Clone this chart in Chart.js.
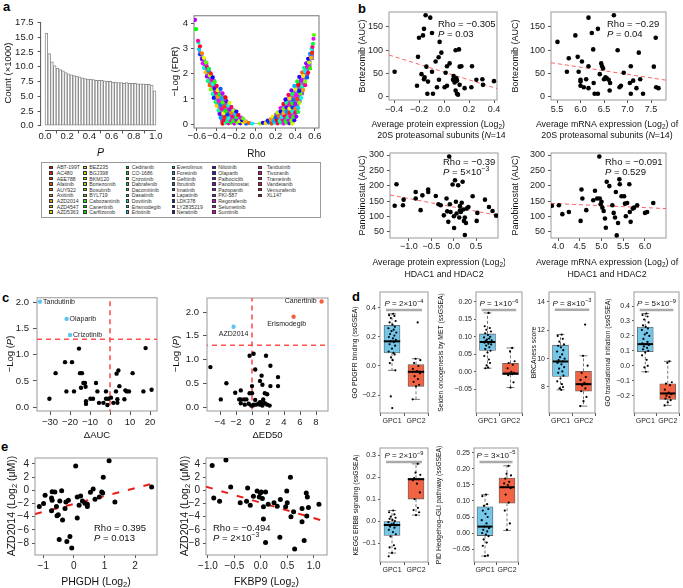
<!DOCTYPE html>
<html><head><meta charset="utf-8">
<script src="https://cdn.jsdelivr.net/npm/chart.js@4.4.1/dist/chart.umd.min.js"></script>
<style>
html,body{margin:0;padding:0;background:#fff;overflow:hidden;width:683px;height:588px}
body{position:relative;font-family:"Liberation Sans",Arial,sans-serif}
.lt{position:absolute;font-weight:bold;font-size:13px;line-height:13px;color:#000}
#legend{position:absolute;left:41px;top:162px;width:280px;height:56px;border:1px solid #9a9a9a;box-sizing:border-box}
.li{position:absolute;font-size:5.2px;line-height:6px;color:#333;white-space:nowrap}
.sw{position:absolute;width:3.6px;height:3.6px;border:0.5px solid #333;box-sizing:border-box}
</style></head><body>
<div class="lt" style="left:3px;top:0px">a</div>
<div class="lt" style="left:358px;top:2px">b</div>
<div class="lt" style="left:2px;top:291px">c</div>
<div class="lt" style="left:352px;top:290px">d</div>
<div class="lt" style="left:1px;top:440px">e</div>
<div id="legend"></div>
<script>
// ================= DATA =================
// panel a: histogram of P values (count x1000), 40 bins of width 0.025
const histCounts=[15.7,12.2,10.8,10.2,9.7,9.5,9.3,9.0,8.8,8.6,8.5,8.4,8.3,8.1,8.0,7.9,7.9,7.8,7.7,7.7,7.7,7.6,7.5,7.5,7.4,7.4,7.3,7.3,7.2,7.3,7.2,7.2,7.2,7.1,7.1,7.1,7.0,7.0,6.9,5.9];
const histBinWidth=0.025;
const histTicksX=[0,0.2,0.4,0.6,0.8,1.0];
const histTicksY=[0,2.5,5,7.5,10,12.5,15,17.5];
// panel a: volcano (Rho vs -log FDR)
const drugs=["ABT-199T","AC480","AEE788","Afatinib","AUY922","Axitinib","AZD2014","AZD4547","AZD5363",
"BEZ235","BGJ398","BKM120","Bortezomib","Bosutinib","BYL719","Cabozantinib","Canertinib","Carfilzomib",
"Cediranib","CO-1686","Crizotinib","Dabrafenib","Dacomitinib","Dasatinib","Dovitinib","Erismodegib","Erlotinib",
"Everolimus","Foretinib","Gefitinib","Ibrutinib","Imatinib","Lapatinib","LDK378","LY2835219","Neratinib",
"Nilotinib","Olaparib","Palbociclib","Panobinostat","Pazopanib","PKI-587","Regorafenib","Selumetinib","Sunitinib",
"Tandutinib","Tivozanib","Trametinib","Vandetanib","Vemurafenib","XL147"];
const volcanoPts=[
[-0.34,0.02],[-0.31,0.05],[-0.28,0.03],[-0.25,0.06],[-0.22,0.02],[-0.19,0.05],[-0.16,0.03],[-0.13,0.06],[-0.10,0.02],[-0.07,0.04],[-0.04,0.02],
[-0.33,0.15],[-0.29,0.12],[-0.26,0.16],[-0.23,0.13],[-0.2,0.17],[-0.17,0.12],[-0.14,0.15],[-0.11,0.1],
[-0.36,0.25],[-0.32,0.28],[-0.28,0.24],[-0.24,0.3],[-0.2,0.27],[-0.16,0.25],[-0.13,0.22],
[-0.37,0.4],[-0.33,0.43],[-0.29,0.38],[-0.25,0.45],[-0.21,0.41],[-0.18,0.36],
[-0.38,0.55],[-0.35,0.6],[-0.31,0.52],[-0.27,0.58],[-0.23,0.54],[-0.2,0.5],
[-0.4,0.72],[-0.36,0.76],[-0.32,0.7],[-0.28,0.74],[-0.25,0.68],
[-0.41,0.88],[-0.38,0.92],[-0.34,0.86],[-0.3,0.9],[-0.27,0.84],
[-0.43,1.04],[-0.39,1.08],[-0.35,1.02],[-0.31,1.06],
[-0.44,1.2],[-0.41,1.25],[-0.37,1.18],[-0.34,1.22],
[-0.46,1.38],[-0.42,1.42],[-0.39,1.35],[-0.36,1.4],
[-0.47,1.55],[-0.44,1.6],[-0.4,1.52],
[-0.49,1.72],[-0.45,1.76],[-0.42,1.68],
[-0.5,1.9],[-0.47,1.94],[-0.44,1.86],
[-0.51,2.06],[-0.48,2.1],[-0.46,2.02],
[-0.53,2.24],[-0.5,2.28],[-0.48,2.2],
[-0.54,2.42],[-0.51,2.46],[-0.55,2.6],[-0.53,2.64],[-0.57,2.78],[-0.55,2.82],
[-0.58,2.98],[-0.57,3.1],[-0.585,3.25],[-0.59,3.32],[-0.61,3.78],[-0.62,4.15],
[0.04,0.02],[0.07,0.05],[0.1,0.03],[0.13,0.06],[0.16,0.02],[0.19,0.05],[0.22,0.03],[0.25,0.06],[0.28,0.02],[0.31,0.05],[0.34,0.03],[0.37,0.02],
[0.12,0.14],[0.15,0.17],[0.18,0.12],[0.21,0.16],[0.24,0.13],[0.27,0.17],[0.3,0.12],[0.33,0.16],[0.36,0.13],[0.39,0.15],
[0.17,0.3],[0.2,0.27],[0.23,0.32],[0.26,0.28],[0.29,0.33],[0.32,0.27],[0.35,0.31],[0.38,0.28],[0.41,0.3],
[0.22,0.46],[0.25,0.5],[0.28,0.44],[0.31,0.48],[0.34,0.45],[0.37,0.5],[0.4,0.46],[0.43,0.48],
[0.25,0.64],[0.28,0.6],[0.31,0.66],[0.34,0.62],[0.37,0.67],[0.4,0.61],[0.43,0.65],
[0.28,0.8],[0.31,0.84],[0.34,0.78],[0.37,0.82],[0.4,0.8],[0.44,0.84],
[0.3,0.98],[0.34,1.02],[0.38,0.96],[0.42,1.0],[0.46,1.04],
[0.33,1.16],[0.37,1.2],[0.41,1.15],[0.45,1.22],
[0.36,1.34],[0.4,1.38],[0.44,1.32],[0.48,1.36],
[0.39,1.52],[0.43,1.56],[0.47,1.5],[0.5,1.55],
[0.42,1.7],[0.46,1.74],[0.5,1.7],
[0.44,1.88],[0.48,1.92],[0.52,1.86],
[0.47,2.06],[0.5,2.1],[0.53,2.04],
[0.49,2.24],[0.52,2.28],[0.55,2.22],
[0.51,2.42],[0.54,2.46],[0.53,2.6],[0.56,2.64],[0.55,2.8],[0.57,2.84],
[0.565,3.0],[0.575,3.08],[0.58,3.2],[0.585,3.4],[0.59,3.55]];
// vertical extent [x, low, high] of the dense point cloud, read column by column
const volcanoCloud=[[-0.575,2.85,3.05],[-0.55,2.5,2.85],[-0.525,2.15,2.65],[-0.5,1.9,2.5],[-0.475,1.6,2.25],[-0.45,1.35,2.0],[-0.425,1.0,1.8],[-0.4,0.7,1.6],[-0.375,0.4,1.45],[-0.35,0.05,1.3],[-0.325,0,1.15],[-0.3,0,1.0],[-0.275,0,0.88],[-0.25,0,0.75],[-0.225,0,0.63],[-0.2,0,0.53],[-0.175,0,0.43],[-0.15,0,0.33],[-0.125,0,0.24],[-0.1,0,0.17],[-0.075,0,0.1],[-0.05,0,0.05],[-0.025,0,0.03],[0,0,0.02],[0.025,0,0.03],[0.05,0,0.05],[0.075,0,0.09],[0.1,0,0.14],[0.125,0,0.19],[0.15,0,0.26],[0.175,0,0.36],[0.2,0,0.45],[0.225,0,0.54],[0.25,0,0.66],[0.275,0,0.8],[0.3,0,0.94],[0.325,0,1.08],[0.35,0,1.22],[0.375,0,1.38],[0.4,0.2,1.52],[0.425,0.55,1.7],[0.45,0.85,1.9],[0.475,1.15,2.08],[0.5,1.5,2.28],[0.525,1.8,2.5],[0.55,2.15,2.82],[0.575,2.55,3.1]];
const volcanoTicksX=[-0.6,-0.4,-0.2,0,0.2,0.4,0.6];
const volcanoTicksY=[0,1,2,3,4];

// panel b
const b1Pts=[[-0.395,54],[-0.216,24],[-0.208,86],[-0.2,127],[-0.18,49],[-0.168,132],[-0.16,146],[-0.16,38],[-0.155,42],[-0.147,175],[-0.141,65],[-0.133,7],[-0.128,33],[-0.11,170],[-0.096,137],[-0.096,54],[-0.088,7],[-0.067,76],[-0.056,21],[-0.043,85],[-0.04,37],[-0.035,118],[-0.021,95],[0.005,21],[0.013,52],[0.024,24],[0.024,66],[0.045,72],[0.072,37],[0.077,45],[0.085,31],[0.093,100],[0.093,14],[0.099,40],[0.104,7],[0.104,35],[0.112,5],[0.12,102],[0.125,65],[0.125,26],[0.139,66],[0.165,19],[0.219,21],[0.224,66],[0.259,37],[0.307,38],[0.312,26],[0.4,34]];
const b1Fit=[[-0.44,90],[0.424,18]];
const b2Pts=[[5.51,118],[5.71,54],[5.75,83],[5.89,132],[5.94,86],[5.96,54],[6.0,37],[6.0,33],[6.0,24],[6.03,76],[6.07,21],[6.12,38],[6.17,66],[6.17,170],[6.17,19],[6.24,137],[6.27,102],[6.28,30],[6.3,7],[6.37,146],[6.37,7],[6.41,49],[6.44,72],[6.46,66],[6.48,61],[6.5,38],[6.53,42],[6.56,40],[6.6,37],[6.62,14],[6.63,30],[6.71,175],[6.79,100],[6.83,21],[6.86,24],[6.92,52],[7.05,30],[7.07,66],[7.07,7],[7.12,35],[7.19,19],[7.24,95],[7.27,38],[7.33,7],[7.56,65],[7.6,127],[7.61,21],[7.66,19]];
const b2Fit=[[5.372,73.5],[7.819,36]];
const b3Pts=[[-1.32,135],[-1.28,205],[-1.135,137],[-1.12,155],[-0.85,180],[-0.85,159],[-0.74,121],[-0.70,169],[-0.57,188],[-0.57,180],[-0.4,167],[-0.34,140],[-0.29,137],[-0.22,104],[-0.16,159],[-0.145,117],[-0.12,83],[-0.1,295],[-0.085,140],[-0.07,115],[-0.025,204],[0.005,101],[0.01,63],[0.03,218],[0.05,148],[0.065,110],[0.1,202],[0.125,97],[0.14,134],[0.14,120],[0.16,115],[0.18,145],[0.2,213],[0.215,123],[0.23,86],[0.25,97],[0.275,79],[0.25,40],[0.29,126],[0.33,131],[0.425,166],[0.515,86],[0.53,112],[0.7,155],[0.79,131],[0.87,118],[0.95,103]];
const b3Fit=[[-1.425,170],[0.992,104]];
const b4Pts=[[3.86,135],[4.02,137],[4.1,108],[4.25,115],[4.54,188],[4.56,159],[4.65,121],[4.52,86],[4.81,153],[4.85,184],[4.9,159],[4.95,295],[4.96,159],[4.98,140],[5.0,148],[5.02,129],[5.05,118],[5.08,94],[5.1,64],[5.12,213],[5.18,199],[5.25,137],[5.28,112],[5.31,97],[5.33,180],[5.35,39],[5.38,79],[5.41,221],[5.42,205],[5.46,166],[5.52,166],[5.54,142],[5.56,101],[5.59,144],[5.64,205],[5.65,115],[5.67,83],[5.72,126],[5.75,129],[5.82,137],[6.0,112],[6.05,115],[6.19,144]];
const b4Fit=[[3.839,143],[6.483,126]];

// panel c
const c1Pts=[[-15.5,1.12],[-22.5,0.86],[-19,0.86],[-27.2,0.65],[-15,0.65],[-14,0.65],[-13.3,0.46],[-12.5,0.46],[-7,0.46],[-14.5,0.37],[-12.2,0.39],[-21.8,0.30],[-18,0.30],[-6.3,0.30],[-2,0.30],[-30.3,0.16],[-9.8,0.16],[-8.5,0.16],[-2,0.16],[-0.8,0.16],[-12,0.11],[-12,0.06],[-5.5,0.08],[-3.3,0.08],[-1.3,0.04],[0.5,0.18],[1.7,0.08],[3.3,0.64],[4.2,0.70],[4.7,0.40],[3,0.30],[3.7,0.15],[3.7,0.08],[7.2,0.15],[7.7,0.32],[8.3,0.30],[9.5,0.30],[11.3,0.65],[17.8,1.13],[16.7,0.30],[20.8,0.33]];
const c1Hits=[["Tandutinib",-35,2.02],["Olaparib",-21.7,1.69],["Crizotinib",-20,1.38]];
const c2Pts=[[-5.2,0.84],[-3.9,0.16],[-3.2,0.50],[-2.1,0.30],[-1.4,0.35],[-1.6,0.16],[-1.4,0.16],[-1.0,0.16],[-0.7,0.16],[-1.4,0.08],[-0.9,0.05],[-0.4,0.07],[-0.3,0.29],[-0.3,1.08],[0.2,1.12],[0,0.44],[0,0.29],[0.4,0.79],[0.2,0.05],[0.5,0.05],[0.8,0.07],[1.0,0.05],[1.3,0.03],[0.4,0.15],[1.0,0.1],[1.3,0.1],[1.2,0.66],[1.0,0.55],[1.3,0.47],[1.75,1.08],[1.6,0.29],[1.9,0.27],[2.3,0.87],[2.3,0.44],[1.6,0.08],[1.9,0.05],[2.2,0.03],[3.25,0.63],[3.25,0.44],[1.4,0.16],[-0.1,0.03],[0.1,0.03]];
const c2Hits=[["Canertinib",8.7,2.22],["Erismodegib",5.2,1.90],["AZD2014",-2.3,1.69]];
const pThreshold=1.3;

// panel d: box stats [lo, q1, median, q3, hi] for GPC1, GPC2 + jittered values
const d1Stats=[[-0.03,0.09,0.17,0.28,0.36],[-0.23,-0.14,-0.04,0.01,0.05]];
const d1G1=[0.36,0.35,0.345,0.33,0.31,0.30,0.285,0.27,0.26,0.25,0.24,0.23,0.22,0.21,0.20,0.19,0.18,0.17,0.165,0.15,0.14,0.12,0.10,0.09,0.08,0.06,0.04,0.02,-0.03,-0.21,-0.29];
const d1G2=[0.30,0.05,0.04,0.02,0.0,-0.02,-0.035,-0.05,-0.07,-0.09,-0.11,-0.13,-0.14,-0.23];
const d2Stats=[[0.01,0.061,0.085,0.108,0.168],[-0.045,-0.008,-0.005,0.024,0.068]];
const d2G1=[0.168,0.13,0.125,0.12,0.115,0.11,0.105,0.10,0.098,0.095,0.092,0.09,0.088,0.085,0.083,0.08,0.078,0.075,0.07,0.065,0.06,0.055,0.045,0.035,0.025,0.018,0.012,0.01];
const d2G2=[0.068,0.058,0.03,0.025,0.02,0.01,0.0,-0.003,-0.005,-0.007,-0.01,-0.03,-0.045];
const d3Stats=[[7.8,8.75,9.8,10.95,11.7],[6.65,7.7,8.2,9.1,10.2]];
const d3G1=[11.7,11.6,11.4,11.2,11.0,10.9,10.8,10.6,10.5,10.3,10.1,10.0,9.9,9.8,9.7,9.6,9.4,9.3,9.1,9.0,8.8,8.6,8.4,8.2,8.0,7.9,7.8];
const d3G2=[12.4,10.2,9.5,9.0,8.7,8.5,8.3,8.2,8.1,7.9,7.7,7.3,7.0,6.65];
const d4Stats=[[-0.04,0.095,0.145,0.26,0.35],[-0.265,-0.225,-0.185,-0.12,0.03]];
const d4G1=[0.35,0.34,0.33,0.31,0.29,0.27,0.26,0.25,0.24,0.22,0.21,0.2,0.18,0.16,0.15,0.145,0.14,0.13,0.12,0.11,0.1,0.09,0.07,0.04,0.0,-0.01,-0.04];
const d4G2=[0.03,0.02,-0.11,-0.12,-0.13,-0.16,-0.18,-0.19,-0.2,-0.21,-0.22,-0.23,-0.245,-0.265];
const d5Stats=[[-0.145,-0.065,-0.018,0.0,0.048],[0.027,0.10,0.19,0.195,0.26]];
const d5G1=[0.048,0.04,0.03,0.02,0.015,0.01,0.005,0.0,-0.005,-0.01,-0.015,-0.02,-0.025,-0.03,-0.04,-0.05,-0.06,-0.07,-0.11,-0.12,-0.125,-0.145,-0.16];
const d5G2=[0.26,0.22,0.21,0.195,0.19,0.185,0.17,0.13,0.10,0.06,0.05,0.04,0.027];
const d6Stats=[[-0.072,-0.008,0.02,0.082,0.12],[0.008,0.093,0.143,0.172,0.21]];
const d6G1=[0.12,0.115,0.09,0.085,0.075,0.07,0.06,0.05,0.04,0.03,0.02,0.015,0.01,0.005,0.0,-0.005,-0.01,-0.02,-0.03,-0.04,-0.07,-0.072];
const d6G2=[0.21,0.185,0.18,0.17,0.16,0.155,0.15,0.14,0.12,0.095,0.07,0.03,0.01];
const groups=["GPC1","GPC2"];

// panel e
const e1Pts=[[-1.13,-2.45],[-0.99,-2.0],[-0.94,-0.75],[-0.73,-1.15],[-0.71,-1.5],[-0.71,-0.2],[-0.62,-0.25],[-0.73,-3.1],[-0.57,-2.45],[-0.55,-3.85],[-0.51,-3.7],[-0.46,-1.6],[-0.4,-0.05],[-0.37,-4.5],[-0.48,-7.45],[-0.29,-2.75],[-0.26,-1.75],[-0.18,-1.5],[-0.13,-7.0],[-0.23,-7.75],[-0.07,-8.75],[0.06,3.7],[0.11,-1.0],[0.11,-4.2],[0.17,-2.25],[0.22,-0.85],[0.28,-1.6],[0.36,-1.95],[0.44,-2.1],[0.44,-2.45],[0.54,-0.3],[0.63,0.2],[0.69,-1.35],[0.83,-1.0],[0.91,-0.25],[0.94,-0.4],[0.96,2.0],[1.15,4.5],[1.34,-1.75],[2.54,0.5]];
const e1Fit=[[-1.27,-3.6],[2.715,1.2]];
const e2Pts=[[-0.92,3.75],[-0.66,4.6],[-0.89,-1.15],[-0.78,-1.65],[-0.57,0.5],[-0.39,-1.9],[-0.25,0.35],[-0.27,-1.65],[-0.2,-2.25],[-0.14,-0.9],[-0.07,-0.1],[-0.03,-1.0],[-0.01,-0.4],[0.01,-0.25],[0.03,-1.25],[0.05,-2.5],[0.09,-0.25],[0.14,-2.1],[0.05,-4.35],[0.09,-7.9],[0.25,-1.9],[0.31,-2.4],[0.37,-1.4],[0.36,-7.1],[0.47,-2.5],[0.49,-0.1],[0.5,-1.9],[0.56,2.0],[0.57,-4.0],[0.62,-3.25],[0.64,-8.9],[0.78,-2.75],[0.78,-4.75],[0.82,-7.6],[0.86,-0.4],[0.87,-3.9],[0.88,-1.0],[0.9,-2.6],[1.1,-2.1]];
const e2Fit=[[-1.037,0.55],[1.252,-4.8]];

// ================= RENDERING =================
const FAM='"Liberation Sans", Arial, Helvetica, sans-serif';
const BLUE='#74c7e8', RED='#f26343', CYAN='#5cc6ee', HITRED='#f4603f';
const JIT=[0.05,-0.12,0.1,-0.05,0.15,-0.1,0.02,0.12,-0.15,0.07,-0.02,0.18,-0.08,0.1,-0.13,0.04,0.16,-0.06,0.08,-0.1,0.13,0,-0.14,0.06,0.11,-0.04,0.03,-0.09,0.14,-0.05,0.01];
const hueOf=i=>i*360/drugs.length;
const SIDE=new WeakMap();
const f0=v=>(v<0?'−':'')+Math.abs(v);
const f1=v=>(v<0?'−':'')+Math.abs(v).toFixed(1);
const f2=v=>(v<0?'−':'')+Math.abs(v).toFixed(2);
const xy=a=>a.map(p=>({x:p[0],y:p[1]}));

function drawRich(ctx,it,X,Y){
  const size=it.size||10;
  const parts=it.parts.map(p=>Array.isArray(p)?{t:p[0],s:p[1]}:{t:p,s:''});
  const fnt=p=>{const sz=(p.s==='s'||p.s==='b')?size*0.72:size;return (p.s==='i'?'italic ':'')+sz+'px '+FAM;};
  ctx.save();ctx.fillStyle=it.color||'#111';ctx.textBaseline='middle';ctx.textAlign='left';
  const ws=parts.map(p=>{ctx.font=fnt(p);return ctx.measureText(p.t).width;});
  const tot=ws.reduce((a,b)=>a+b,0);
  ctx.translate(X,Y);if(it.rot)ctx.rotate(it.rot*Math.PI/180);
  let x=it.align==='center'?-tot/2:it.align==='right'?-tot:0;
  parts.forEach((p,i)=>{ctx.font=fnt(p);const dy=p.s==='s'?-size*0.38:p.s==='b'?size*0.28:0;ctx.fillText(p.t,x,dy);x+=ws[i];});
  ctx.restore();
}
const sidePlugin={id:'side',
  beforeDatasetsDraw(c){const s=SIDE.get(c.canvas);if(!s)return;const ctx=c.ctx;const {left,top,right,bottom}=c.chartArea;
    if(s.frame){ctx.save();ctx.strokeStyle=s.frame;ctx.lineWidth=1;ctx.strokeRect(left,top,right-left,bottom-top);ctx.restore();}
    if(s.haxes){const h=s.haxes,xs=c.scales.x,ys=c.scales.y;ctx.save();ctx.strokeStyle='#555';ctx.lineWidth=1;ctx.beginPath();
      ctx.moveTo(left,ys.getPixelForValue(h.y0));ctx.lineTo(left,ys.getPixelForValue(h.y1));
      ctx.moveTo(xs.getPixelForValue(h.x0),bottom);ctx.lineTo(xs.getPixelForValue(h.x1),bottom);ctx.stroke();ctx.restore();}
  },
  afterDraw(c){const s=SIDE.get(c.canvas);if(!s||!s.notes)return;const ctx=c.ctx;
    s.notes.forEach(it=>{let X,Y;if(it.data){X=c.scales.x.getPixelForValue(it.x)+(it.dx||0);Y=c.scales.y.getPixelForValue(it.y)+(it.dy||0);}else{X=it.x-s.ox;Y=it.y-s.oy;}drawRich(ctx,it,X,Y);});
  }
};

function mk(s){
  const [x0,y0,x1,y1]=s.cv,[l,t,r,b]=s.area;
  const W=x1-x0,H=y1-y0;
  const cv=document.createElement('canvas');cv.width=W;cv.height=H;
  cv.style.cssText=`position:absolute;left:${x0}px;top:${y0}px;width:${W}px;height:${H}px`;
  document.body.appendChild(cv);
  SIDE.set(cv,{frame:s.frame,haxes:s.haxes,notes:s.notes||[],ox:x0,oy:y0});
  const ax=(a,isX)=>({type:'linear',position:isX?'bottom':'left',min:a.min,max:a.max,offset:false,
    afterBuildTicks:sc=>{sc.ticks=a.ticks.map(v=>({value:v}));},
    afterFit:sc=>{if(isX)sc.height=y1-b;else sc.width=l-x0;},
    ticks:{autoSkip:false,maxRotation:0,minRotation:0,padding:a.pad,color:'#222',font:{family:FAM,size:a.fs,lineHeight:1},callback:v=>a.fmt(v)},
    grid:{display:true,drawOnChartArea:false,drawTicks:true,tickLength:a.tl,color:'#555',lineWidth:1},
    border:{display:false},title:{display:false}});
  return new Chart(cv,{type:s.type||'scatter',data:{datasets:s.datasets},
    options:{responsive:false,animation:false,events:[],devicePixelRatio:1,
      layout:{padding:{left:0,top:t-y0,right:x1-r,bottom:0}},
      scales:{x:ax(s.x,true),y:ax(s.y,false)},
      plugins:{legend:{display:false},tooltip:{enabled:false},title:{display:false}}},
    plugins:[sidePlugin]});
}
function seg(ds,pts,o){ds.push(Object.assign({type:'line',data:xy(pts),pointRadius:0,fill:false,tension:0,borderWidth:1,borderColor:'#555'},o));}
function dots(pts,o){return Object.assign({type:'scatter',data:xy(pts),pointRadius:2.3,pointBackgroundColor:'#000',pointBorderWidth:0,order:0},o);}

// ---- panel a: histogram
mk({type:'bar',cv:[0,8,172,162],area:[40.6,15,160.4,130.5],
  x:{min:-0.04,max:1.04,ticks:histTicksX,fmt:f1,fs:9.5,tl:3,pad:-2},
  y:{min:-0.8,max:18.45,ticks:histTicksY,fmt:f1,fs:9.5,tl:3,pad:4},
  haxes:{x0:0,x1:1,y0:0,y1:17.5},
  datasets:[{type:'bar',data:histCounts.map((v,i)=>({x:(i+0.5)*histBinWidth,y:v})),backgroundColor:'#fff',borderColor:'#8c8c8c',borderWidth:1,borderSkipped:false,barPercentage:1,categoryPercentage:1}],
  notes:[{x:8,y:73,rot:-90,parts:['Count (×1000)'],size:9.5,align:'center'},{x:100.5,y:153,parts:[['P','i']],size:10.5,align:'center'}]});

// ---- panel a: volcano
(function(){
  const ds=[];
  volcanoCloud.forEach(c=>seg(ds,[[c[0],c[1]],[c[0],c[2]]],{borderColor:'rgb(150,98,196)',borderWidth:2.9,borderCapStyle:'butt',order:3}));
  ds.push({type:'scatter',data:xy(volcanoPts),pointRadius:2.1,pointBorderWidth:0,order:0,
     pointBackgroundColor:volcanoPts.map((p,i)=>`hsl(${hueOf((i*23)%drugs.length)},100%,50%)`)});
  mk({cv:[168,8,330,162],area:[194,15,319,128],
    x:{min:-0.6305,max:0.641,ticks:volcanoTicksX,fmt:f1,fs:9.5,tl:3,pad:1},
    y:{min:-0.158,max:4.317,ticks:volcanoTicksY,fmt:f0,fs:9.5,tl:3,pad:3},
    frame:'#777',datasets:ds,
    notes:[{x:175,y:71.5,rot:-90,parts:['−Log (FDR)'],size:9.5,align:'center'},{x:256.5,y:154,parts:['Rho'],size:10,align:'center'}]});
})();

// ---- legend (HTML)
(function(){const LSW=[49.3,83.3,125.7,171.7,212.3,258.3],LTX=[56.7,89.3,131.7,176.7,218.3,266.7];
  drugs.forEach((d,i)=>{const c=Math.floor(i/9),r=i%9,y=167.3+r*5.6;
    const sw=document.createElement('div');sw.className='sw';sw.style.left=LSW[c]+'px';sw.style.top=(y-1.8)+'px';sw.style.background=`hsl(${hueOf(i)},100%,45%)`;document.body.appendChild(sw);
    const tx=document.createElement('div');tx.className='li';tx.style.left=LTX[c]+'px';tx.style.top=(y-3)+'px';tx.textContent=d;document.body.appendChild(tx);});})();

// ---- panel b
function bChart(cv,area,x,y,pts,fit,notes){
  mk({cv,area,x:Object.assign({fmt:f1,fs:9,tl:3,pad:2},x),y:Object.assign({fmt:f0,fs:9,tl:3,pad:3},y),frame:'#999',
    datasets:[dots(pts),{type:'line',data:xy(fit),borderColor:'#ff6060',borderWidth:1,borderDash:[4,3],pointRadius:0,fill:false,order:1}],notes});
}
const rho=(x,y,r,p)=>[{x,y,parts:['Rho = '+r],size:9.5},{x,y:y+10.5,parts:[['P','i'],...p],size:9.5}];
bChart([356,3,505,141],[389,12,497,100],{min:-0.44,max:0.424,ticks:[-0.4,-0.2,0,0.2,0.4]},{min:-6.43,max:182.1,ticks:[0,50,100,150]},b1Pts,b1Fit,
  [{x:363,y:56,rot:-90,parts:['Bortezomib (AUC)'],size:9,align:'center'},
   {x:443,y:124.5,parts:['Average protein expression (Log',['2','b'],') of'],size:8.8,align:'center'},
   {x:443,y:135.5,parts:['20S proteasomal subunits (',['N','i'],'=14)'],size:8.8,align:'center'},
   ...rho(438,24,'−0.305',[' = 0.03'])]);
bChart([508,3,683,141],[551,12,666,100],{min:5.372,max:7.819,ticks:[5.5,6,6.5,7,7.5]},{min:-6.43,max:182.1,ticks:[0,50,100,150]},b2Pts,b2Fit,
  [{x:516,y:56,rot:-90,parts:['Bortezomib (AUC)'],size:9,align:'center'},
   {x:607,y:124.5,parts:['Average mRNA expression (Log',['2','b'],') of'],size:8.8,align:'center'},
   {x:607,y:135.5,parts:['20S proteasomal subunits (',['N','i'],'=14)'],size:8.8,align:'center'},
   ...rho(607,24,'−0.29',[' = 0.04'])]);
bChart([356,144,505,282],[390,153,498,238],{min:-1.425,max:0.992,ticks:[-1,-0.5,0,0.5],pad:1},{min:30.5,max:306.5,ticks:[50,100,150,200,250,300]},b3Pts,b3Fit,
  [{x:363,y:195.5,rot:-90,parts:['Panobinostat (AUC)'],size:9,align:'center'},
   {x:444,y:263,parts:['Average protein expression (Log',['2','b'],') of'],size:8.8,align:'center'},
   {x:444,y:275,parts:['HDAC1 and HDAC2'],size:8.8,align:'center'},
   ...rho(443,162,'−0.39',[' = 5×10',['−3','s']])]);
bChart([508,144,683,282],[551,153,666,238],{min:3.839,max:6.483,ticks:[4,4.5,5,5.5,6],pad:1},{min:30.5,max:306.5,ticks:[50,100,150,200,250,300]},b4Pts,b4Fit,
  [{x:516,y:195.5,rot:-90,parts:['Panobinostat (AUC)'],size:9,align:'center'},
   {x:607,y:263,parts:['Average mRNA expression (Log',['2','b'],') of'],size:8.8,align:'center'},
   {x:607,y:275,parts:['HDAC1 and HDAC2'],size:8.8,align:'center'},
   ...rho(605,162,'−0.091',[' = 0.529'])]);

// ---- panel c
function cChart(cv,area,x,y,pts,hits,hitColors,labelPos,title,ytx){
  const ds=[dots(pts,{pointRadius:2.2}),
    dots(hits.map(h=>[h[1],h[2]]),{pointRadius:2.2,pointBackgroundColor:hitColors})];
  seg(ds,[[0,-1],[0,3]],{borderColor:'#ff5050',borderWidth:1.6,borderDash:[5,4],order:1});
  seg(ds,[[-50,pThreshold],[50,pThreshold]],{borderColor:'#ff5050',borderWidth:1.6,borderDash:[5,4],order:1});
  const notes=[{x:ytx,y:354,rot:-90,parts:['−Log (',['P','i'],')'],size:9.5,align:'center'},
    {x:(area[0]+area[2])/2,y:435,parts:[title],size:9.5,align:'center'}];
  hits.forEach((h,i)=>notes.push(Object.assign({data:true,x:h[1],y:h[2],parts:[h[0]],size:7,color:'#222'},labelPos[i])));
  mk({cv,area,x:Object.assign({fmt:f0,fs:9.5,tl:4,pad:3},x),y:Object.assign({fmt:f1,fs:9.5,tl:4,pad:4},y),frame:'#999',datasets:ds,notes});
}
cChart([3,289,165,442],[37,297,157,411],{min:-36.5,max:23.5,ticks:[-30,-20,-10,0,10,20]},{min:-0.076,max:2.095,ticks:[0,0.5,1,1.5,2]},
  c1Pts,c1Hits,[CYAN,CYAN,CYAN],[{dx:3},{dx:3},{dx:3}],'ΔAUC',10);
cChart([169,289,335,442],[207,298,328,411],{min:-5.625,max:9.5,ticks:[-4,-2,0,2,4,6,8]},{min:-0.084,max:2.295,ticks:[0,0.5,1,1.5,2]},
  c2Pts,c2Hits,[HITRED,HITRED,CYAN],[{dx:-5,align:'right'},{dx:-7,dy:7,align:'center'},{dx:0,dy:7,align:'center'}],'ΔED50',176);

// ---- panel d
function dChart(cv,area,y,stats,g1,g2,barY,pParts,title){
  const ds=[{type:'bar',data:stats.map((s,i)=>({x:i+1,y:[s[1],s[3]]})),backgroundColor:[BLUE,RED],borderColor:'#5e5e5e',borderWidth:0.8,borderSkipped:false,barThickness:16,order:5}];
  stats.forEach((s,i)=>{const g=i+1;
    seg(ds,[[g,s[3]],[g,s[4]]],{borderDash:[3,2],borderWidth:0.8,order:6});
    seg(ds,[[g,s[1]],[g,s[0]]],{borderDash:[3,2],borderWidth:0.8,order:6});
    seg(ds,[[g-0.17,s[4]],[g+0.17,s[4]]],{borderWidth:0.8,order:4});
    seg(ds,[[g-0.17,s[0]],[g+0.17,s[0]]],{borderWidth:0.8,order:4});
    seg(ds,[[g-0.34,s[2]],[g+0.34,s[2]]],{borderColor:'#000',borderWidth:2,order:3});});
  ds.push(dots(g1.map((v,j)=>[1+JIT[j%JIT.length],v]).concat(g2.map((v,j)=>[2+JIT[(j+9)%JIT.length],v])),{pointRadius:1.1,order:1}));
  seg(ds,[[0.75,barY],[2.25,barY]],{borderColor:'#aaaaaa',borderWidth:2.5,order:2});
  const notes=[{data:true,x:1.5,y:barY,dy:-6,parts:[['P','i'],...pParts],size:8,align:'center'},
    {x:cv[0]+4.2,y:(area[1]+area[3])/2,rot:-90,parts:[title],size:6.8,align:'center'}];
  mk({cv,area,x:{min:0.5,max:2.5,ticks:[1,2],fmt:v=>groups[Math.round(v)-1],fs:7,tl:3,pad:2},y:Object.assign({fs:7,tl:2,pad:2},y),frame:'#999',datasets:ds,notes});
}
dChart([351,285,434,431],[380,292,428,413],{min:-0.324,max:0.510,ticks:[-0.2,0,0.2,0.4],fmt:f1},d1Stats,d1G1,d1G2,0.386,[' = 2×10',['−4','s']],'GO PDGFR binding (ssGSEA)');
dChart([437,285,527,431],[476,292,522,413],{min:-0.1177,max:0.2277,ticks:[-0.05,0,0.05,0.1,0.15,0.2],fmt:f2},d2Stats,d2G1,d2G2,0.176,[' = 1×10',['−6','s']],'Seiden oncogenesis by MET (ssGSEA)');
dChart([530,285,600,431],[549,292,595,413],{min:6.165,max:14.7,ticks:[8,10,12,14],fmt:f0},d3Stats,d3G1,d3G2,13.44,[' = 8×10',['−3','s']],'BRCAness score');
dChart([604,285,683,431],[634,292,679,413],{min:-0.316,max:0.494,ticks:[-0.2,-0.1,0,0.1,0.2,0.3,0.4],fmt:f1},d4Stats,d4G1,d4G2,0.373,[' = 5×10',['−9','s']],'GO translational initiation (ssGSEA)');
dChart([352,441,434,578],[380,448,428,562],{min:-0.186,max:0.332,ticks:[-0.1,0,0.1,0.2,0.3],fmt:f1},d5Stats,d5G1,d5G2,0.268,[' = 2×10',['−9','s']],'KEGG ERBB signaling (ssGSEA)');
dChart([435,441,522,578],[474,448,519,562],{min:-0.0906,max:0.2656,ticks:[-0.05,0,0.05,0.1,0.15,0.2,0.25],fmt:f2},d6Stats,d6G1,d6G2,0.222,[' = 3×10',['−5','s']],'PID Hedgehog–GLI pathway (ssGSEA)');

// ---- panel e
function eChart(cv,area,x,pts,fit,xTitle,ytx,notes){
  mk({cv,area,x:Object.assign({fs:10,tl:3,pad:3},x),y:{min:-9.8,max:4.9,ticks:[-8,-6,-4,-2,0,2,4],fmt:f0,fs:10,tl:3,pad:3},frame:'#999',
    datasets:[dots(pts,{pointRadius:2.5}),{type:'line',data:xy(fit),borderColor:'#e8201a',borderWidth:2,borderDash:[7,9],pointRadius:0,fill:false,order:1}],
    notes:[{x:ytx,y:506,rot:-90,parts:['AZD2014 (Log',['2','b'],' (μM))'],size:10.5,align:'center'},
      {x:(area[0]+area[2])/2,y:582,parts:[xTitle,['2','b'],')'],size:10.5,align:'center'},...notes]});
}
eChart([5,450,165,589],[35,457,157,555],{min:-1.27,max:2.715,ticks:[-1,0,1,2],fmt:f0},e1Pts,e1Fit,'PHGDH (Log',12,rho(94,528,'0.395',[' = 0.013']));
eChart([177,450,335,589],[206,457,327,555],{min:-1.037,max:1.252,ticks:[-1,-0.5,0,0.5,1],fmt:f1},e2Pts,e2Fit,'FKBP9 (Log',185,rho(213,528,'−0.494',[' = 2×10',['−3','s']]));
</script>
</body></html>
